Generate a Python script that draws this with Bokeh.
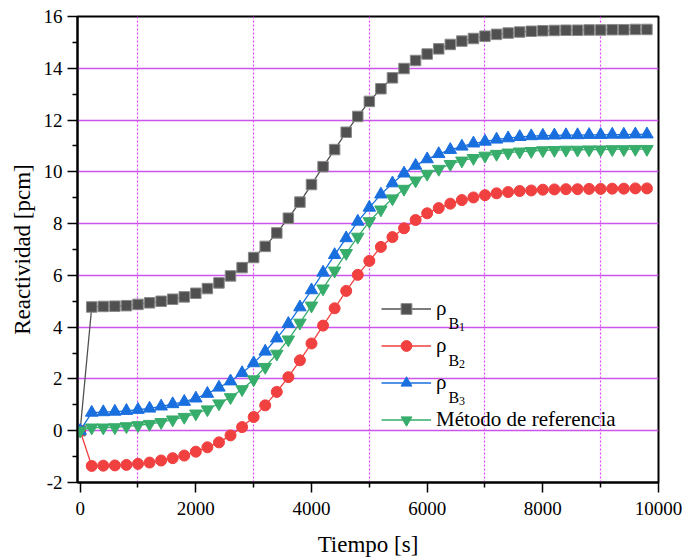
from bokeh.plotting import figure
from bokeh.models import Range1d, FixedTicker, Legend, LegendItem, Label
from bokeh.embed import file_html
from bokeh.resources import INLINE

time_s = [0, 200, 400, 600, 800, 1000, 1200, 1400, 1600, 1800,
          2000, 2200, 2400, 2600, 2800, 3000, 3200, 3400, 3600, 3800,
          4000, 4200, 4400, 4600, 4800, 5000, 5200, 5400, 5600, 5800,
          6000, 6200, 6400, 6600, 6800, 7000, 7200, 7400, 7600, 7800,
          8000, 8200, 8400, 8600, 8800, 9000, 9200, 9400, 9600, 9800]

rho_b1 = [0.00, 4.78, 4.80, 4.81, 4.83, 4.88, 4.94, 5.00, 5.08, 5.17,
          5.31, 5.49, 5.71, 5.98, 6.30, 6.69, 7.12, 7.64, 8.21, 8.83,
          9.51, 10.20, 10.86, 11.53, 12.14, 12.72, 13.21, 13.63, 13.99, 14.30,
          14.55, 14.75, 14.92, 15.05, 15.15, 15.24, 15.31, 15.36, 15.40, 15.43,
          15.45, 15.46, 15.47, 15.47, 15.48, 15.48, 15.49, 15.49, 15.50, 15.50]

rho_b2 = [0.00, -1.36, -1.35, -1.34, -1.32, -1.28, -1.23, -1.15, -1.06, -0.96,
          -0.81, -0.64, -0.45, -0.18, 0.14, 0.53, 0.98, 1.50, 2.07, 2.72,
          3.37, 4.06, 4.73, 5.40, 6.02, 6.56, 7.10, 7.48, 7.82, 8.14,
          8.40, 8.60, 8.77, 8.91, 9.01, 9.10, 9.17, 9.22, 9.26, 9.28,
          9.31, 9.32, 9.33, 9.33, 9.34, 9.34, 9.35, 9.35, 9.36, 9.36]

rho_b3 = [0.00, 0.70, 0.72, 0.74, 0.77, 0.81, 0.86, 0.94, 1.03, 1.12,
          1.25, 1.43, 1.67, 1.91, 2.23, 2.61, 3.06, 3.57, 4.13, 4.77,
          5.43, 6.11, 6.79, 7.44, 8.08, 8.62, 9.13, 9.56, 9.94, 10.24,
          10.49, 10.69, 10.85, 10.98, 11.10, 11.17, 11.25, 11.30, 11.35, 11.38,
          11.40, 11.41, 11.42, 11.42, 11.43, 11.43, 11.44, 11.44, 11.45, 11.45]

rho_ref = [0.00, 0.12, 0.12, 0.13, 0.17, 0.21, 0.26, 0.33, 0.43, 0.53,
           0.66, 0.82, 1.05, 1.29, 1.60, 1.98, 2.46, 2.97, 3.52, 4.17,
           4.83, 5.49, 6.18, 6.86, 7.49, 8.09, 8.54, 8.97, 9.34, 9.66,
           9.92, 10.11, 10.30, 10.43, 10.53, 10.62, 10.69, 10.74, 10.78, 10.80,
           10.83, 10.84, 10.85, 10.85, 10.86, 10.86, 10.87, 10.87, 10.88, 10.88]

x_major = [0, 2000, 4000, 6000, 8000, 10000]
x_minor = [1000, 3000, 5000, 7000, 9000]
y_major = [-2, 0, 2, 4, 6, 8, 10, 12, 14, 16]
y_minor = [-1, 1, 3, 5, 7, 9, 11, 13, 15]
y_tick_labels = {v: str(v) for v in y_major}

legend_last = "Método de referencia"

FONT = "Liberation Serif"

p = figure(width=698, height=560, output_backend="svg", toolbar_location=None,
           x_range=Range1d(-46, 10000), y_range=Range1d(-2, 16),
           min_border_left=77, min_border_right=40, min_border_top=16,
           min_border_bottom=78, background_fill_color="white",
           border_fill_color="white")

p.outline_line_color = "black"
p.outline_line_width = 2

p.xaxis.ticker = FixedTicker(ticks=x_major, minor_ticks=x_minor)
p.yaxis.ticker = FixedTicker(ticks=y_major, minor_ticks=y_minor)
p.yaxis.major_label_overrides = y_tick_labels

for axes in (p.xaxis, p.yaxis):
    axes.axis_line_width = 2
    axes.axis_line_color = "black"
    axes.major_tick_line_width = 1.5
    axes.minor_tick_line_width = 1.5
    axes.major_tick_out = 10
    axes.major_tick_in = 0
    axes.minor_tick_out = 5
    axes.minor_tick_in = 0
    axes.major_label_text_font = FONT
    axes.major_label_text_font_size = "19px"
    axes.major_label_text_color = "black"
    axes.axis_label_text_font = FONT
    axes.axis_label_text_font_size = "23px"
    axes.axis_label_text_font_style = "normal"
    axes.axis_label_text_color = "black"

p.xaxis.major_label_standoff = 9
p.yaxis.major_label_standoff = 5
p.xaxis.axis_label = "Tiempo [s]"
p.yaxis.axis_label = "Reactividad [pcm]"
p.xaxis.axis_label_standoff = 14
p.yaxis.axis_label_standoff = 6

p.xgrid.ticker = FixedTicker(ticks=x_minor)
p.xgrid.grid_line_color = "#E040FF"
p.xgrid.grid_line_width = 1.2
p.xgrid.grid_line_dash = "2 2"
p.ygrid.ticker = FixedTicker(ticks=y_major)
p.ygrid.grid_line_color = "#CC55EE"
p.ygrid.grid_line_width = 1.5

series = [
    (rho_b1, "#505050", "#8A8A8A", "square", 10.5),
    (rho_b2, "#F14040", "#F14040", "circle", 11),
    (rho_b3, "#1A6FDF", "#1A6FDF", "triangle", 12.5),
    (rho_ref, "#37AD6B", "#37AD6B", "inverted_triangle", 12.5),
]

items = []
for vals, col, edge, mk, sz in series:
    ln = p.line(time_s, vals, line_color=col, line_width=1.3)
    sc = p.scatter(time_s, vals, marker=mk, size=sz, fill_color=col,
                   line_color=edge, line_width=1)
    items.append([ln, sc])

LEG_X = 304
LEG_Y = 44
ITEM_H = 37

labels = ["ρ", "ρ", "ρ", legend_last]
legend = Legend(items=[LegendItem(label=labels[i], renderers=items[i]) for i in range(4)],
                location=(LEG_X, LEG_Y), orientation="vertical",
                glyph_width=50, glyph_height=27, label_height=ITEM_H,
                spacing=0, padding=0, margin=0, label_standoff=5,
                border_line_color=None, background_fill_alpha=0,
                label_text_font=FONT, label_text_font_size="21px",
                label_text_color="black")
p.add_layout(legend, "center")

subs = ["1", "2", "3"]
for i in range(3):
    yc = LEG_Y + (3 - i) * ITEM_H + ITEM_H / 2
    p.add_layout(Label(x=LEG_X + 67, y=yc - 14.5, x_units="screen", y_units="screen",
                       text="B", text_font=FONT, text_font_size="16px",
                       text_color="black", text_baseline="alphabetic"))
    p.add_layout(Label(x=LEG_X + 77.5, y=yc - 18, x_units="screen", y_units="screen",
                       text=subs[i], text_font=FONT, text_font_size="12px",
                       text_color="black", text_baseline="alphabetic"))

open("out.html", "w").write(file_html(p, INLINE))
